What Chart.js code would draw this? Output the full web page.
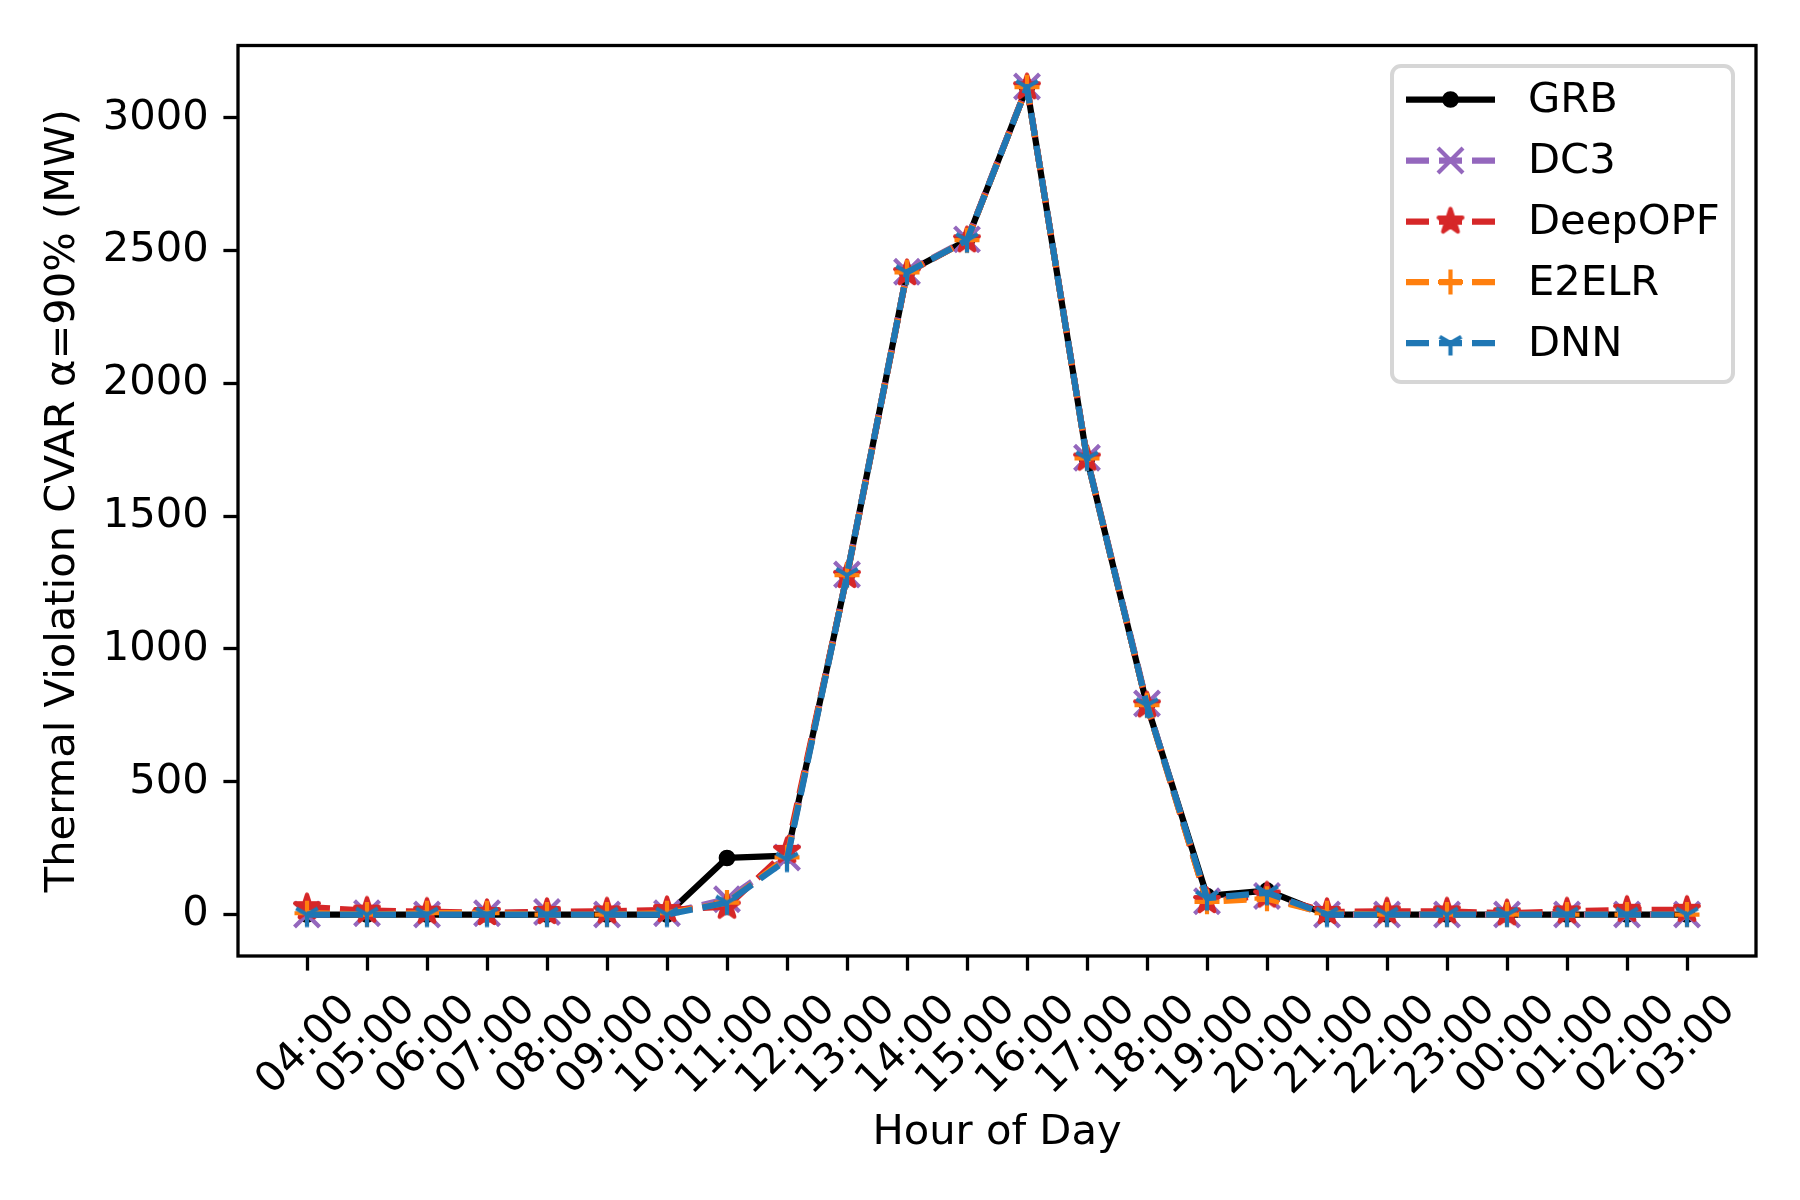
<!DOCTYPE html>
<html><head><meta charset="utf-8">
<script src="https://cdn.jsdelivr.net/npm/chart.js@4/dist/chart.umd.min.js"></script>
<style>html,body{margin:0;padding:0;background:#fff}canvas{display:block}</style>
</head><body>
<canvas id="c" width="1800" height="1200"></canvas>
<script>
const hours = ['04:00','05:00','06:00','07:00','08:00','09:00','10:00','11:00','12:00','13:00','14:00','15:00','16:00','17:00','18:00','19:00','20:00','21:00','22:00','23:00','00:00','01:00','02:00','03:00'];
const grb     = [0,0,0,0,0,0,0,213,222,1278,2418,2539,3115,1717,788,70,90,0,0,0,0,0,0,0];
const dc3     = [0,5,0,5,10,0,5,58,215,1280,2420,2542,3118,1720,795,50,70,0,0,0,0,0,0,0];
const deepopf = [28,15,11,6,10,12,17,30,240,1275,2415,2539,3115,1717,788,51,72,10,12,12,5,12,18,18];
const e2elr   = [5,0,5,5,0,0,5,45,215,1278,2418,2539,3115,1717,788,48,60,5,0,0,0,0,0,0];
const dnn     = [0,0,0,0,0,0,0,45,207,1278,2418,2539,3115,1717,788,62,82,0,0,0,0,0,0,0];
const yTicks  = [0,500,1000,1500,2000,2500,3000];

const FS = 41.67;
const font = {family:'DejaVu Sans', size:FS};
const LW = 6.25, MEW = 4.17, DASH = [23,10];

function starCanvas(color){
  const c=document.createElement('canvas'); c.width=40; c.height=40;
  const g=c.getContext('2d'); const R=12.5, r=R*0.381966;
  g.beginPath();
  for(let k=0;k<10;k++){const a=-Math.PI/2+k*Math.PI/5; const rr=k%2?r:R; const x=20+rr*Math.cos(a), y=20+rr*Math.sin(a); k?g.lineTo(x,y):g.moveTo(x,y);}
  g.closePath(); g.fillStyle=color; g.fill(); g.strokeStyle=color; g.lineWidth=MEW; g.lineJoin='round'; g.stroke();
  return c;
}
function triCanvas(color){
  const c=document.createElement('canvas'); c.width=40; c.height=40;
  const g=c.getContext('2d'); const R=12.5;
  g.strokeStyle=color; g.lineWidth=MEW; g.lineCap='butt';
  g.beginPath();
  g.moveTo(20,20); g.lineTo(20,20+R);
  g.moveTo(20,20); g.lineTo(20-R*0.866,20-R*0.5);
  g.moveTo(20,20); g.lineTo(20+R*0.866,20-R*0.5);
  g.stroke();
  return c;
}
const STAR = starCanvas('#d62728');
const TRI = triCanvas('#1f77b4');

const pts = arr => arr.map((v,i)=>({x:i,y:v}));
const series = [
  {label:'GRB', data:grb, color:'#000000', dash:[], style:'circle', radius:6.25, order:5},
  {label:'DC3', data:dc3, color:'#9467bd', dash:DASH, style:'crossRot', radius:17.68, order:4},
  {label:'DeepOPF', data:deepopf, color:'#d62728', dash:DASH, style:STAR, radius:14, order:3},
  {label:'E2ELR', data:e2elr, color:'#ff7f0e', dash:DASH, style:'cross', radius:12.5, order:2},
  {label:'DNN', data:dnn, color:'#1f77b4', dash:DASH, style:TRI, radius:14, order:1}
];

const datasets = series.map(s=>({
  label:s.label, data:pts(s.data), borderColor:s.color, backgroundColor:s.color,
  borderWidth:LW, borderDash:s.dash, borderJoinStyle:'round', borderCapStyle:'butt',
  pointStyle:s.style, pointRadius:s.radius, pointBorderWidth:MEW,
  pointBackgroundColor:s.color, pointBorderColor:s.color, pointHoverRadius:s.radius,
  tension:0, fill:false, order:s.order
}));

function drawMarker(g, s, x, y){
  g.save();
  g.strokeStyle=s.color; g.fillStyle=s.color; g.lineWidth=MEW; g.lineCap='butt';
  if (s.style==='circle'){ g.beginPath(); g.arc(x,y,s.radius,0,Math.PI*2); g.fill(); g.stroke(); }
  else if (s.style==='crossRot'){ const d=12.5; g.beginPath(); g.moveTo(x-d,y-d); g.lineTo(x+d,y+d); g.moveTo(x+d,y-d); g.lineTo(x-d,y+d); g.stroke(); }
  else if (s.style==='cross'){ const d=12.5; g.beginPath(); g.moveTo(x-d,y); g.lineTo(x+d,y); g.moveTo(x,y-d); g.lineTo(x,y+d); g.stroke(); }
  else { g.drawImage(s.style, x-s.style.width/2, y-s.style.height/2); }
  g.restore();
}

const framePlugin = {
  id:'frame',
  afterDatasetsDraw(chart){
    const {ctx, chartArea:a} = chart;
    ctx.save(); ctx.strokeStyle='#000'; ctx.lineWidth=3.3;
    ctx.strokeRect(a.left, a.top, a.right-a.left, a.bottom-a.top);
    ctx.restore();
  },
  afterDraw(chart){
    const g = chart.ctx;
    g.save();
    const bx=1392, by=66, bw=341, bh=316, r=9;
    g.beginPath(); g.roundRect(bx,by,bw,bh,r);
    g.fillStyle='rgba(255,255,255,0.8)'; g.fill();
    g.strokeStyle='#d6d6d6'; g.lineWidth=4; g.stroke();
    const rows=[99.5,160.5,221.5,282,343];
    series.forEach((s,i)=>{
      const y=rows[i];
      g.save();
      g.strokeStyle=s.color; g.lineWidth=LW; g.lineCap='butt'; g.setLineDash(s.dash);
      g.beginPath(); g.moveTo(1406,y); g.lineTo(1495,y); g.stroke();
      g.restore();
      drawMarker(g, s, 1450.5, y);
      g.fillStyle='#000'; g.font=FS+"px 'DejaVu Sans'"; g.textAlign='left'; g.textBaseline='middle';
      g.fillText(s.label, 1528, y+2);
    });
    g.restore();
  }
};

new Chart(document.getElementById('c'), {
  type:'line',
  data:{datasets},
  options:{
    responsive:false, devicePixelRatio:1, animation:false,
    layout:{padding:{left:0, top:45.5, right:44, bottom:0}},
    plugins:{legend:{display:false}, tooltip:{enabled:false}},
    scales:{
      x:{
        type:'linear', min:-1.15, max:24.15,
        afterBuildTicks:s=>{ s.ticks = hours.map((h,i)=>({value:i})); },
        afterFit:s=>{ s.height = 1200-956; },
        ticks:{callback:v=>hours[v], autoSkip:false, maxRotation:45, minRotation:45, labelOffset:42, padding:15, color:'#000', font},
        grid:{drawOnChartArea:false, drawTicks:true, tickLength:14.6, tickWidth:3.3, tickColor:'#000'},
        border:{display:false},
        title:{display:true, text:'Hour of Day', color:'#000', font, padding:{top:0,bottom:42}}
      },
      y:{
        type:'linear', min:-156, max:3272,
        afterBuildTicks:s=>{ s.ticks = yTicks.map(v=>({value:v})); },
        afterFit:s=>{ s.width = 238; },
        ticks:{color:'#000', font, padding:14.6, callback:v=>String(v)},
        grid:{drawOnChartArea:false, drawTicks:true, tickLength:14.6, tickWidth:3.3, tickColor:'#000'},
        border:{display:false},
        title:{display:true, text:'Thermal Violation CVAR α=90% (MW)', color:'#000', font, padding:{top:38,bottom:0}}
      }
    }
  },
  plugins:[framePlugin]
});
</script>
</body></html>
